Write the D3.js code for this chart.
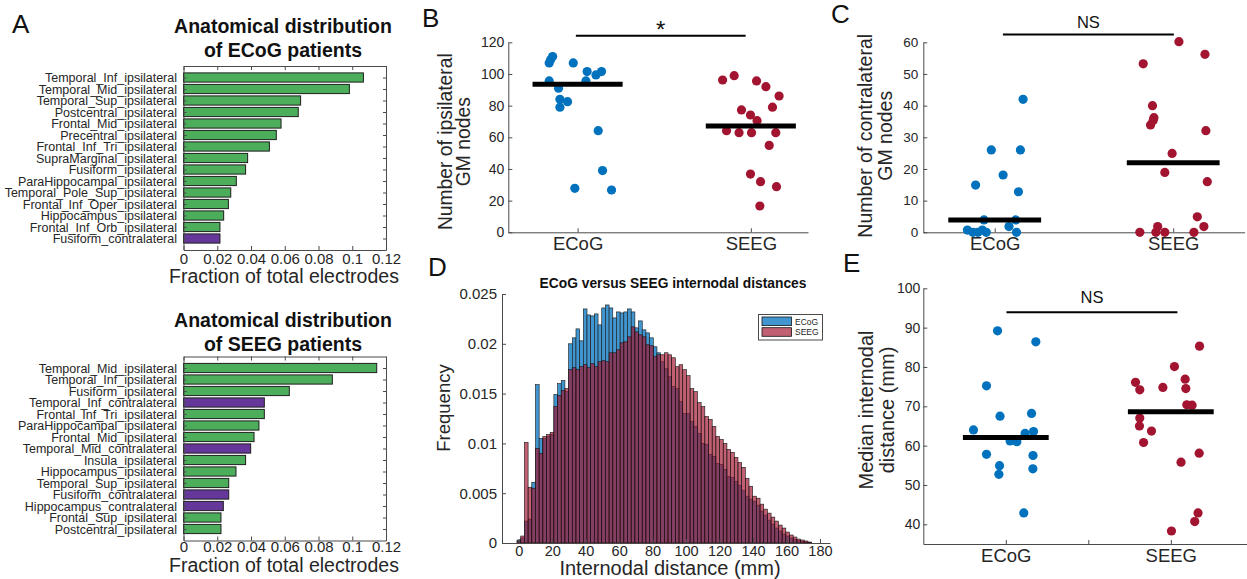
<!DOCTYPE html>
<html>
<head>
<meta charset="utf-8">
<script src="https://cdn.jsdelivr.net/npm/d3@7"></script>
<style>
  body { margin: 0; background: #fff; }
  svg { display: block; font-family: "Liberation Sans", Arial, sans-serif; }
</style>
</head>
<body>
<svg id="fig"></svg>
<script>
// ---- data ----
const groups = ["ECoG", "SEEG"];

const ecogRegions = ["Temporal_Inf_ipsilateral", "Temporal_Mid_ipsilateral", "Temporal_Sup_ipsilateral",
  "Postcentral_ipsilateral", "Frontal_Mid_ipsilateral", "Precentral_ipsilateral", "Frontal_Inf_Tri_ipsilateral",
  "SupraMarginal_ipsilateral", "Fusiform_ipsilateral", "ParaHippocampal_ipsilateral", "Temporal_Pole_Sup_ipsilateral",
  "Frontal_Inf_Oper_ipsilateral", "Hippocampus_ipsilateral", "Frontal_Inf_Orb_ipsilateral", "Fusiform_contralateral"];
const ecogFractions = [0.1066, 0.0983, 0.0694, 0.0680, 0.0578, 0.0550, 0.0509, 0.0380, 0.0368, 0.0313,
  0.0280, 0.0266, 0.0238, 0.0216, 0.0216];

const seegRegions = ["Temporal_Mid_ipsilateral", "Temporal_Inf_ipsilateral", "Fusiform_ipsilateral",
  "Temporal_Inf_contralateral", "Frontal_Inf_Tri_ipsilateral", "ParaHippocampal_ipsilateral", "Frontal_Mid_ipsilateral",
  "Temporal_Mid_contralateral", "Insula_ipsilateral", "Hippocampus_ipsilateral", "Temporal_Sup_ipsilateral",
  "Fusiform_contralateral", "Hippocampus_contralateral", "Frontal_Sup_ipsilateral", "Postcentral_ipsilateral"];
const seegFractions = [0.1145, 0.0882, 0.0627, 0.0479, 0.0479, 0.0447, 0.0418, 0.0398, 0.0368, 0.0311,
  0.0268, 0.0268, 0.0236, 0.0222, 0.0222];

// [jittered group position, value]
const ipsiECoG = [[0.856,111],[0.844,109],[0.836,107],[0.975,107],[1.055,101.5],[1.106,99.4],[1.138,101.5],
  [0.836,95.6],[1.048,95.6],[0.890,91],[0.898,84],[0.942,82.5],[0.898,79],[1.119,64.2],[1.144,39],[0.984,27.8],[1.196,26.7]];
const ipsiSEEG = [[1.837,96.2],[1.904,98.9],[2.033,95.6],[2.087,92],[2.163,86.1],[1.946,77.3],[2.125,79],
  [1.998,74.1],[2.036,70.5],[1.860,64.2],[1.932,62.9],[2.004,62.9],[2.144,62.9],[2.106,54.9],[1.998,36.8],
  [2.056,32],[2.148,28.8],[2.052,16.6]];
const ipsiMeans = [93.5, 67.2];

const contraECoG = [[1.159,42],[0.981,26],[1.144,26],[1.047,18.1],[0.893,14.9],[1.133,12.8],[0.940,3.9],
  [1.118,3.9],[0.847,0.7],[0.878,0],[0.906,0],[0.931,0.7],[0.953,0],[1.080,1.8],[1.122,0]];
const contraSEEG = [[2.032,60.2],[1.832,53.2],[2.178,56.2],[1.884,40],[1.892,36.2],[1.888,35.3],[1.873,33.9],
  [2.183,32.1],[1.994,24.9],[1.953,18.9],[2.191,16],[2.135,4.9],[2.172,1.8],[1.813,0],[1.913,1.8],[1.903,0],
  [1.953,0],[2.116,0]];
const contraMeans = [3.9, 22];

const distECoG = [[0.950,89.2],[1.182,86.4],[0.883,75.2],[0.965,67.5],[1.156,68.2],[0.804,64],[1.168,63.6],
  [1.117,63.1],[1.026,61.2],[1.067,61.0],[0.883,57.8],[1.165,57.5],[0.962,54.9],[1.164,54.1],[0.958,52.7],[1.109,42.9]];
const distSEEG = [[2.174,85.3],[2.022,80.1],[1.786,76.1],[1.812,74.2],[1.952,74.8],[2.087,76.9],[2.091,74.5],
  [2.097,70.4],[2.129,70.3],[1.812,67],[1.810,65],[1.883,63.7],[1.835,60.8],[2.172,58.1],[2.062,55.8],
  [2.165,42.9],[2.145,40.7],[2.004,38.3]];
const distMeans = [62.1, 68.6];

// histogram: bins start at -1 mm, 2.2 mm wide
const binStart = -1;
const binWidth = 2.2;
const ecogFreq = [0.0003,0.0005,0.0022,0.0024,0.0061,0.0159,0.0105,0.0105,0.0107,0.0109,0.0149,0.0160,0.0163,0.0152,
  0.0200,0.0206,0.0215,0.0203,0.0235,0.0229,0.0228,0.0230,0.0219,0.0236,0.0239,0.0236,0.0226,0.0232,0.0231,0.0232,
  0.0235,0.0232,0.0216,0.0223,0.0214,0.0211,0.0206,0.0197,0.0191,0.0182,0.0175,0.0167,0.0157,0.0155,0.0142,0.0130,
  0.0130,0.0122,0.0117,0.0110,0.0100,0.0099,0.0089,0.0087,0.0080,0.0079,0.0074,0.0067,0.0066,0.0062,0.0058,0.0053,
  0.0047,0.0044,0.0042,0.0038,0.0032,0.0028,0.0023,0.0019,0.0015,0.0012,0.0009,0.0007,0.0005,0.00035,0.00025,
  0.00015,0.0001,0.00005];
const seegFreq = [0.0002,0.0007,0.0101,0.0056,0.0055,0.0095,0.0090,0.0107,0.0109,0.0111,0.0137,0.0148,0.0153,0.0155,
  0.0174,0.0176,0.0174,0.0177,0.0179,0.0176,0.0180,0.0177,0.0182,0.0183,0.0182,0.0191,0.0191,0.0194,0.0201,0.0202,
  0.0207,0.0217,0.0212,0.0209,0.0207,0.0199,0.0198,0.0187,0.0189,0.0189,0.0191,0.0189,0.0186,0.0177,0.0179,0.0174,
  0.0168,0.0155,0.0152,0.0141,0.0137,0.0127,0.0124,0.0117,0.0107,0.0104,0.0100,0.0094,0.0091,0.0086,0.0081,0.0076,
  0.0065,0.0057,0.0047,0.0045,0.0039,0.0034,0.0030,0.0026,0.0022,0.0018,0.0015,0.0011,0.0008,0.0006,0.0004,
  0.0003,0.0002,0.0001];

// ---- colours ----
const TEXT = "#262626";
const AXIS = "#4a4a4a";
const GREEN = "#4cae5b";
const PURPLE = "#66379b";
const BLUE = "#0072bd";
const RED = "#a2142f";
const HIST_BLUE = "#4196d0";
const RED_ALPHA = 0.68;

const svg = d3.select("#fig").attr("width", 1247).attr("height", 579);

function styleAxis(sel, size) {
  sel.select(".domain").attr("stroke", AXIS).attr("stroke-width", 1);
  sel.selectAll(".tick line").attr("stroke", AXIS);
  sel.selectAll(".tick text").attr("fill", TEXT).attr("font-size", size + "px")
    .attr("font-family", "Liberation Sans, Arial, sans-serif");
}

function rotLabel(g, lines, xs, cy, size) {
  lines.forEach((t, i) => {
    g.append("text")
      .attr("transform", `translate(${xs[i]},${cy}) rotate(-90)`)
      .attr("text-anchor", "middle")
      .attr("font-size", size + "px")
      .attr("fill", TEXT)
      .text(t);
  });
}

// ---- panel A: horizontal bar charts ----
function regionPanel(regions, values, top, titles, titleY, tickPad, labelY) {
  const g = svg.append("g");
  const x = d3.scaleLinear().domain([0, 0.12]).range([183.5, 386]);
  const y = d3.scaleLinear().domain([0, 16]).range([top, top + 184]);
  const pos = regions.map((d, i) => i + 1);

  g.selectAll(".bar").data(regions).join("rect")
    .attr("x", x(0))
    .attr("y", (d, i) => y(i + 1 - 0.4))
    .attr("width", (d, i) => x(values[i]) - x(0))
    .attr("height", y(0.8) - y(0))
    .attr("fill", d => d.includes("contralateral") ? PURPLE : GREEN)
    .attr("stroke", "#1e1e1e")
    .attr("stroke-width", 1);

  const xt = d3.range(0, 0.1201, 0.02);
  g.append("g").attr("transform", `translate(0,${top + 184})`)
    .call(d3.axisBottom(x).tickValues(xt).tickSize(-4).tickSizeOuter(0).tickPadding(tickPad)
      .tickFormat(d => d3.format(".2~f")(d)))
    .call(s => styleAxis(s, 15));
  g.append("g").attr("transform", `translate(0,${top})`)
    .call(d3.axisTop(x).tickValues(xt).tickSize(-4).tickSizeOuter(0).tickFormat(""))
    .call(s => styleAxis(s, 15));
  g.append("g").attr("transform", `translate(${x(0)},0)`)
    .call(d3.axisLeft(y).tickValues(pos).tickSize(-3).tickSizeOuter(0).tickPadding(6.5)
      .tickFormat(d => regions[d - 1]))
    .call(s => styleAxis(s, 12.5));
  g.append("g").attr("transform", `translate(${x(0.12)},0)`)
    .call(d3.axisRight(y).tickValues(pos).tickSize(-3).tickSizeOuter(0).tickFormat(""))
    .call(s => styleAxis(s, 12));

  g.selectAll(".ttl").data(titles).join("text")
    .attr("x", 283).attr("y", (d, i) => titleY + i * 23.5)
    .attr("text-anchor", "middle")
    .attr("font-size", "19.5px").attr("font-weight", "bold").attr("fill", "#111")
    .text(d => d);

  g.append("text").attr("x", 284).attr("y", labelY)
    .attr("text-anchor", "middle").attr("font-size", "19.5px").attr("fill", TEXT)
    .text("Fraction of total electrodes");
}

regionPanel(ecogRegions, ecogFractions, 66, ["Anatomical distribution", "of ECoG patients"], 33, 3, 283);
regionPanel(seegRegions, seegFractions, 356.5, ["Anatomical distribution", "of SEEG patients"], 327, 1, 571.5);

// ---- panels B, C, E: dot plots ----
function dotPanel(c) {
  const g = svg.append("g");
  const x = d3.scaleLinear().domain(c.xDomain).range(c.xRange);
  const y = d3.scaleLinear().domain(c.yDomain).range(c.yRange);

  g.append("g").attr("transform", `translate(${c.xRange[0]},0)`)
    .call(d3.axisLeft(y).tickValues(c.yTicks).tickSize(-4).tickSizeOuter(0).tickPadding(c.yPad))
    .call(s => styleAxis(s, c.tickSize));
  g.append("g").attr("transform", `translate(0,${c.yRange[0]})`)
    .call(d3.axisBottom(x).tickValues(c.xTicks).tickSize(-4).tickSizeOuter(0).tickPadding(4.5)
      .tickFormat(d => Number.isInteger(d) ? groups[d - 1] : ""))
    .call(s => styleAxis(s, 18.5));

  const pts = c.points[0].map(p => ({ p, k: 0 })).concat(c.points[1].map(p => ({ p, k: 1 })));
  g.selectAll(".dot").data(pts).join("circle")
    .attr("cx", d => x(d.p[0]))
    .attr("cy", d => y(d.p[1]))
    .attr("r", 4.6)
    .attr("fill", d => d.k === 0 ? BLUE : RED);

  g.selectAll(".mean").data(c.means).join("line")
    .attr("x1", (d, i) => x(i + 1 - 0.26))
    .attr("x2", (d, i) => x(i + 1 + 0.26))
    .attr("y1", d => y(d)).attr("y2", d => y(d))
    .attr("stroke", "#000").attr("stroke-width", 5);

  g.append("line")
    .attr("x1", x(c.sig[0])).attr("x2", x(c.sig[1]))
    .attr("y1", y(c.sig[2])).attr("y2", y(c.sig[2]))
    .attr("stroke", "#000").attr("stroke-width", 2);
  g.append("text")
    .attr("x", (x(c.sig[0]) + x(c.sig[1])) / 2)
    .attr("y", y(c.sig[2]) + c.sigDy)
    .attr("text-anchor", "middle")
    .attr("font-size", c.sigSize + "px").attr("fill", "#111")
    .text(c.sigText);

  rotLabel(g, c.yLabel, c.yLabelX, c.yLabelY, c.yLabelSize);
}

dotPanel({
  xDomain: [0.6, 2.33], xRange: [508.3, 808], xTicks: [1, 2],
  yDomain: [0, 120], yRange: [232.3, 42.3], yTicks: d3.range(0, 121, 20), yPad: 4, tickSize: 14,
  points: [ipsiECoG, ipsiSEEG], means: ipsiMeans,
  sig: [0.99, 1.97, 124.2], sigText: "*", sigDy: 2, sigSize: 24,
  yLabel: ["Number of ipsilateral", "GM nodes"], yLabelX: [452, 470], yLabelY: 141.7, yLabelSize: 19.3
});

dotPanel({
  xDomain: [0.6, 2.4], xRange: [923.3, 1244.6], xTicks: [1, 2],
  yDomain: [0, 60], yRange: [232.3, 42.3], yTicks: d3.range(0, 61, 10), yPad: 5, tickSize: 13.5,
  points: [contraECoG, contraSEEG], means: contraMeans,
  sig: [1.046, 2.004, 62.5], sigText: "NS", sigDy: -6, sigSize: 16.5,
  yLabel: ["Number of contralateral", "GM nodes"], yLabelX: [871.7, 891.7], yLabelY: 135.8, yLabelSize: 19.5
});

dotPanel({
  xDomain: [0.5, 2.5], xRange: [923.3, 1253.3], xTicks: [1, 1.5, 2],
  yDomain: [35, 100], yRange: [544, 288.3], yTicks: d3.range(40, 101, 10), yPad: 3, tickSize: 14,
  points: [distECoG, distSEEG], means: distMeans,
  sig: [1.004, 2.04, 93.9], sigText: "NS", sigDy: -9, sigSize: 16.5,
  yLabel: ["Median internodal", "distance (mm)"], yLabelX: [873, 894], yLabelY: 410, yLabelSize: 20
});

// ---- panel D: overlaid histograms ----
(function () {
  const g = svg.append("g");
  const x = d3.scaleLinear().domain([-10, 186]).range([502, 830]);
  const y = d3.scaleLinear().domain([0, 0.025]).range([543, 294]);

  const bar = (sel) => sel
    .attr("x", (d, i) => x(binStart + i * binWidth))
    .attr("width", x(binWidth) - x(0))
    .attr("y", d => y(d))
    .attr("height", d => y(0) - y(d))
    .attr("stroke", "#151515")
    .attr("stroke-width", 0.6);

  g.selectAll(".eb").data(ecogFreq).join("rect").call(bar).attr("fill", HIST_BLUE);
  g.selectAll(".sb").data(seegFreq).join("rect").call(bar).attr("fill", RED).attr("fill-opacity", RED_ALPHA);

  g.append("g").attr("transform", "translate(502,0)")
    .call(d3.axisLeft(y).tickValues(d3.range(0, 0.0251, 0.005)).tickSize(-4).tickSizeOuter(0).tickPadding(5)
      .tickFormat(d => d3.format(".3~f")(d)))
    .call(s => styleAxis(s, 15));
  g.append("g").attr("transform", "translate(0,543)")
    .call(d3.axisBottom(x).tickValues(d3.range(0, 181, 20)).tickSize(-4).tickSizeOuter(0).tickPadding(2.5))
    .call(s => styleAxis(s, 14.5));

  g.append("text").attr("x", 673).attr("y", 288)
    .attr("text-anchor", "middle").attr("font-size", "13.8px").attr("font-weight", "bold").attr("fill", "#111")
    .text("ECoG versus SEEG internodal distances");
  g.append("text").attr("x", 670).attr("y", 575)
    .attr("text-anchor", "middle").attr("font-size", "20px").attr("fill", TEXT)
    .text("Internodal distance (mm)");
  rotLabel(g, ["Frequency"], [450], 408, 18.5);

  // legend
  const lg = g.append("g");
  lg.append("rect").attr("x", 758.5).attr("y", 314.5).attr("width", 64).attr("height", 25.5)
    .attr("fill", "#fff").attr("stroke", AXIS);
  [HIST_BLUE, RED].forEach((col, i) => {
    lg.append("rect").attr("x", 762).attr("y", 317 + i * 10.7).attr("width", 29.5).attr("height", 8.6)
      .attr("fill", col).attr("fill-opacity", i ? RED_ALPHA : 1).attr("stroke", "#151515").attr("stroke-width", 0.8);
    lg.append("text").attr("x", 795).attr("y", 324.5 + i * 10.7)
      .attr("font-size", "8.5px").attr("fill", TEXT).text(groups[i]);
  });
})();

// ---- panel letters ----
[["A", 12, 33], ["B", 422, 27], ["C", 831, 23], ["D", 428, 276], ["E", 843, 272]].forEach(([t, px, py]) => {
  svg.append("text").attr("x", px).attr("y", py)
    .attr("font-size", "26px").attr("fill", "#111").text(t);
});
</script>
</body>
</html>
